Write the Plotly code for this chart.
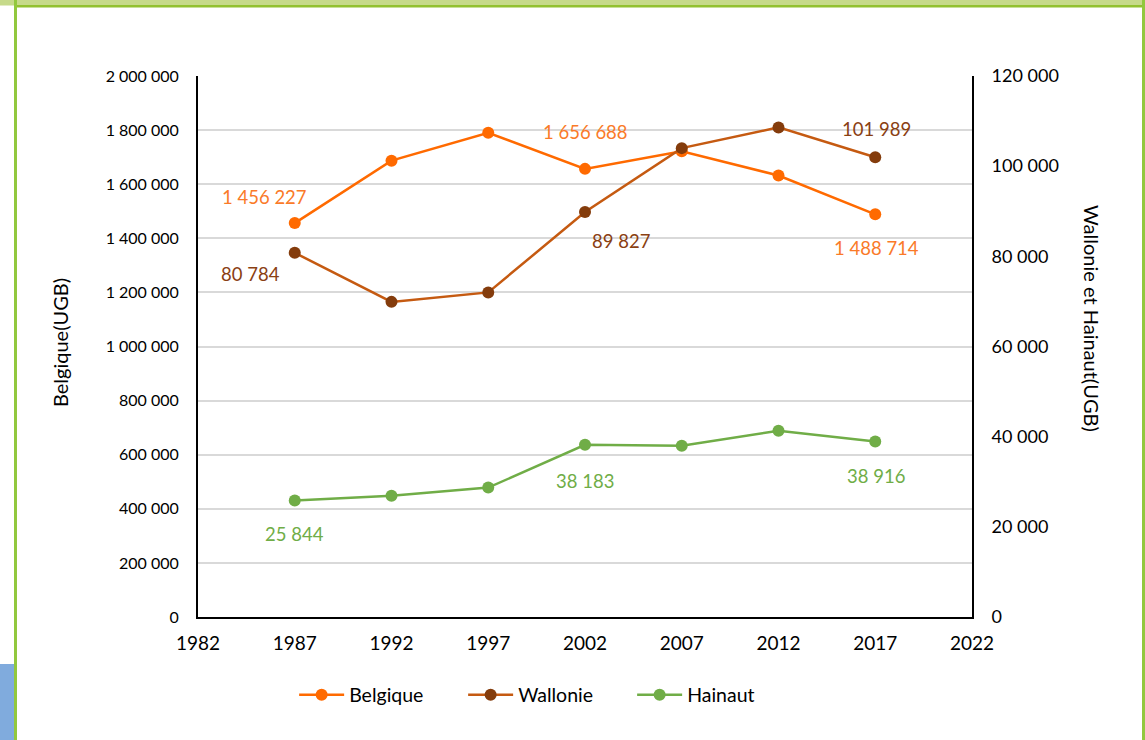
import plotly.graph_objects as go

years = [1987, 1992, 1997, 2002, 2007, 2012, 2017]
belgique = [1456227, 1687000, 1790000, 1656688, 1722000, 1632000, 1488714]
wallonie = [80784, 69900, 72000, 89827, 104000, 108600, 101989]
hainaut = [25844, 26900, 28700, 38183, 38000, 41300, 38916]

left_ticks = [0, 200000, 400000, 600000, 800000, 1000000, 1200000, 1400000, 1600000, 1800000, 2000000]
right_ticks = [0, 20000, 40000, 60000, 80000, 100000, 120000]
x_ticks = [1982, 1987, 1992, 1997, 2002, 2007, 2012, 2017, 2022]

def fmt(v):
    return f"{v:,}".replace(",", " ")

C_BEL = "#FF6A00"
C_BEL_TXT = "#FA7A28"
C_WAL_LINE = "#C55A11"
C_WAL_MK = "#843C0C"
C_WAL_TXT = "#8A4012"
C_HAI = "#70AD47"
FONT = "Lato, 'Open Sans', sans-serif"

fig = go.Figure()
fig.add_trace(go.Scatter(x=years, y=belgique, name="Belgique", mode="lines+markers",
                         line=dict(color=C_BEL, width=2.5),
                         marker=dict(color=C_BEL, size=12), yaxis="y"))
fig.add_trace(go.Scatter(x=years, y=wallonie, name="Wallonie", mode="lines+markers",
                         line=dict(color=C_WAL_LINE, width=2.5),
                         marker=dict(color=C_WAL_MK, size=12), yaxis="y2"))
fig.add_trace(go.Scatter(x=years, y=hainaut, name="Hainaut", mode="lines+markers",
                         line=dict(color=C_HAI, width=2.5),
                         marker=dict(color=C_HAI, size=12), yaxis="y2"))

annotations = []
def lab(i, series, yref, color, xs, ys):
    annotations.append(dict(x=years[i], y=series[i], xref="x", yref=yref,
                            text=fmt(series[i]), showarrow=False,
                            xanchor="center", yanchor="middle",
                            xshift=xs, yshift=ys,
                            font=dict(family=FONT, size=18.5, color=color)))

lab(0, belgique, "y", C_BEL_TXT, -30, 26)
lab(3, belgique, "y", C_BEL_TXT, 0, 37)
lab(6, belgique, "y", C_BEL_TXT, 1, -34)
lab(0, wallonie, "y2", C_WAL_TXT, -44, -21)
lab(3, wallonie, "y2", C_WAL_TXT, 36, -29)
lab(6, wallonie, "y2", C_WAL_TXT, 1, 28)
lab(0, hainaut, "y2", C_HAI, 0, -34)
lab(3, hainaut, "y2", C_HAI, 0, -36)
lab(6, hainaut, "y2", C_HAI, 1, -34)

def px(x):
    return (x - 198) / 774

def py(y):
    return (617 - y) / 541

# axis titles
annotations.append(dict(x=px(60), y=py(343), xref="paper", yref="paper",
                        xanchor="center", yanchor="middle",
                        text="Belgique(UGB)", showarrow=False, textangle=-90,
                        font=dict(family=FONT, size=20, color="#000000")))
annotations.append(dict(x=px(1092), y=py(318), xref="paper", yref="paper",
                        xanchor="center", yanchor="middle",
                        text="Wallonie et Hainaut(UGB)", showarrow=False, textangle=90,
                        font=dict(family=FONT, size=20, color="#000000")))

shapes = [
    dict(type="rect", xref="paper", yref="paper", x0=px(0), x1=px(1145), y0=py(0), y1=py(5.5),
         fillcolor="#C6DA8A", line=dict(width=0), layer="below"),
    dict(type="rect", xref="paper", yref="paper", x0=px(14), x1=px(1145), y0=py(5), y1=py(7.5),
         fillcolor="#92C130", line=dict(width=0), layer="below"),
    dict(type="rect", xref="paper", yref="paper", x0=px(14), x1=px(17), y0=py(0), y1=py(740),
         fillcolor="#92C83E", line=dict(width=0), layer="below"),
    dict(type="rect", xref="paper", yref="paper", x0=px(1142), x1=px(1145), y0=py(0), y1=py(740),
         fillcolor="#92C83E", line=dict(width=0), layer="below"),
    dict(type="rect", xref="paper", yref="paper", x0=px(0), x1=px(14), y0=py(664), y1=py(740),
         fillcolor="#80ABDD", line=dict(width=0), layer="below"),
]

fig.update_layout(
    width=1145, height=740,
    margin=dict(l=198, r=173, t=76, b=123),
    paper_bgcolor="white", plot_bgcolor="white",
    font=dict(family=FONT, size=16, color="#000000"),
    showlegend=True,
    legend=dict(orientation="h", x=px(298) - 0.005, xanchor="left", y=py(695), yanchor="middle",
                font=dict(family=FONT, size=19.5, color="#000000"), itemwidth=45,
                entrywidth=109, tracegroupgap=0),
    xaxis=dict(range=[1982, 2022], tickvals=x_ticks, ticktext=[str(t) for t in x_ticks],
               showgrid=False, showline=True, linecolor="#000000", linewidth=2,
               zeroline=False, ticks="", tickfont=dict(size=19), ticklabelstandoff=8),
    yaxis=dict(range=[0, 2000000], tickvals=left_ticks, ticktext=[fmt(t) for t in left_ticks],
               showgrid=True, gridcolor="#D9D9D9", gridwidth=1.5,
               showline=True, linecolor="#000000", linewidth=2, zeroline=False, ticks="",
               tickfont=dict(size=16), ticklabelstandoff=14),
    yaxis2=dict(range=[0, 120000], tickvals=right_ticks, ticktext=[fmt(t) for t in right_ticks],
                overlaying="y", side="right", showgrid=False,
                showline=True, linecolor="#000000", linewidth=2, zeroline=False, ticks="",
                tickfont=dict(size=18), ticklabelstandoff=14),
    annotations=annotations,
    shapes=shapes,
)

fig.write_html("out.html", config={"displayModeBar": False},
               post_script="document.body.style.margin='0';document.body.style.overflow='hidden';")
